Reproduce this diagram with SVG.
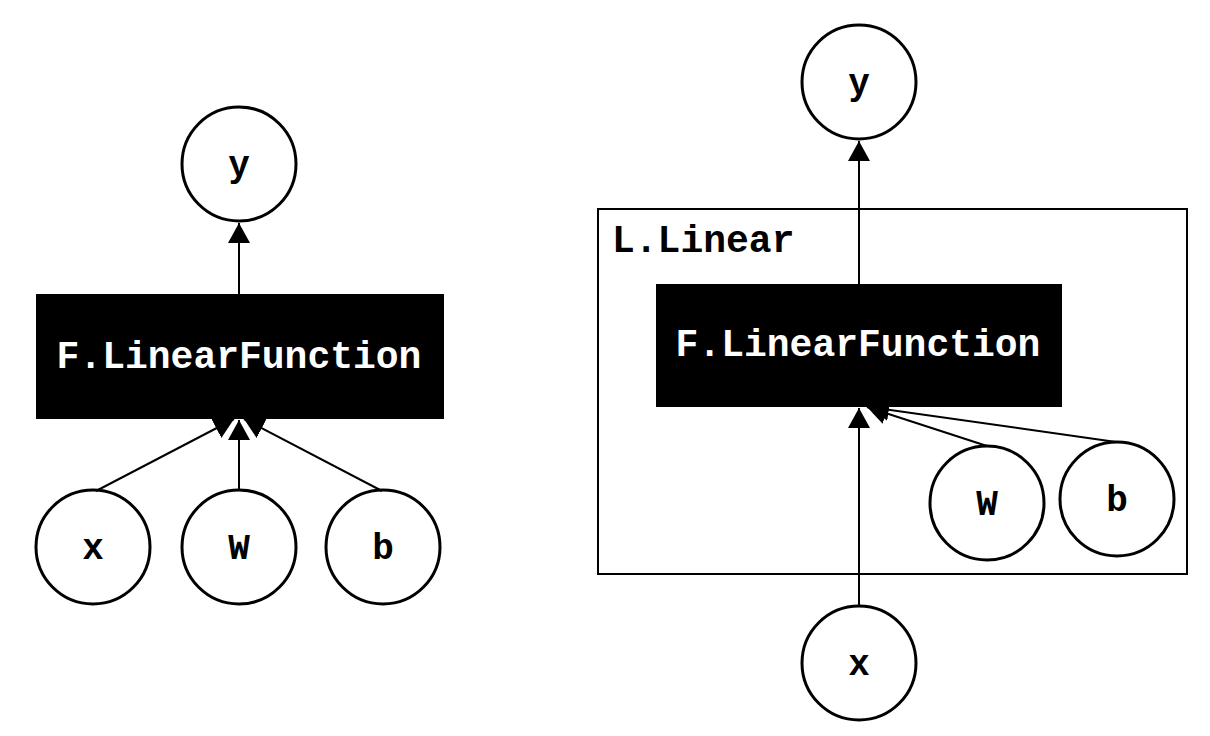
<svg xmlns="http://www.w3.org/2000/svg" width="1210" height="736" viewBox="0 0 1210 736">
<style>
.node circle{fill:#fff;stroke:#000;stroke-width:3}
.fn rect{fill:#000}
.lbl{font-family:"Liberation Mono","Courier New",monospace;font-weight:bold;font-size:36px;text-anchor:middle;fill:#000}
.fnt{font-family:"Liberation Mono","Courier New",monospace;font-weight:bold;font-size:38px;text-anchor:middle;fill:#fff}
.cl{fill:none;stroke:#000;stroke-width:2}
.clt{font-family:"Liberation Mono","Courier New",monospace;font-weight:bold;font-size:38px;fill:#000}
.edges line{stroke:#000;stroke-width:2;marker-end:url(#ah)}
</style>
<defs>
<marker id="ah" markerUnits="userSpaceOnUse" markerWidth="20" markerHeight="22" refX="20" refY="11" orient="auto" viewBox="0 0 20 22">
<path d="M0,0 L20,11 L0,22 z" fill="#000"/>
</marker>
</defs>
<rect width="1210" height="736" fill="#fff"/>

<!-- Left diagram -->
<g id="left-fn" class="fn">
<rect x="36" y="294" width="408" height="125"/>
<text class="fnt" x="239" y="368">F.LinearFunction</text>
</g>
<g id="left-y" class="node"><circle cx="239" cy="164" r="57"/><text class="lbl" x="239" y="176">y</text></g>
<g id="left-x" class="node"><circle cx="93" cy="547" r="57"/><text class="lbl" x="93" y="559">x</text></g>
<g id="left-W" class="node"><circle cx="239" cy="547" r="57"/><text class="lbl" x="239" y="559">W</text></g>
<g id="left-b" class="node"><circle cx="383" cy="547" r="57"/><text class="lbl" x="383" y="559">b</text></g>

<!-- Right diagram -->
<g id="cluster-linear">
<rect class="cl" x="598" y="209" width="589" height="365"/>
<text class="clt" x="612" y="252">L.Linear</text>
</g>
<g id="right-fn" class="fn">
<rect x="656" y="284" width="406" height="123"/>
<text class="fnt" x="858" y="356">F.LinearFunction</text>
</g>
<g id="right-y" class="node"><circle cx="859" cy="82" r="57"/><text class="lbl" x="859" y="94">y</text></g>
<g id="right-W" class="node"><circle cx="987" cy="503" r="57"/><text class="lbl" x="987" y="515">W</text></g>
<g id="right-b" class="node"><circle cx="1117" cy="499" r="57"/><text class="lbl" x="1117" y="511">b</text></g>
<g id="right-x" class="node"><circle cx="859" cy="663" r="57"/><text class="lbl" x="859" y="675">x</text></g>

<g id="connectors" class="edges">
<line x1="239" y1="294" x2="239" y2="223"/>
<line x1="96" y1="491" x2="234" y2="419"/>
<line x1="239" y1="490" x2="239" y2="420"/>
<line x1="382" y1="491" x2="244" y2="419"/>
<line x1="859" y1="284" x2="859" y2="141"/>
<line x1="859" y1="606" x2="859" y2="408"/>
<line x1="987" y1="446" x2="867" y2="407"/>
<line x1="1116" y1="442" x2="869" y2="407"/>
</g>
</svg>
